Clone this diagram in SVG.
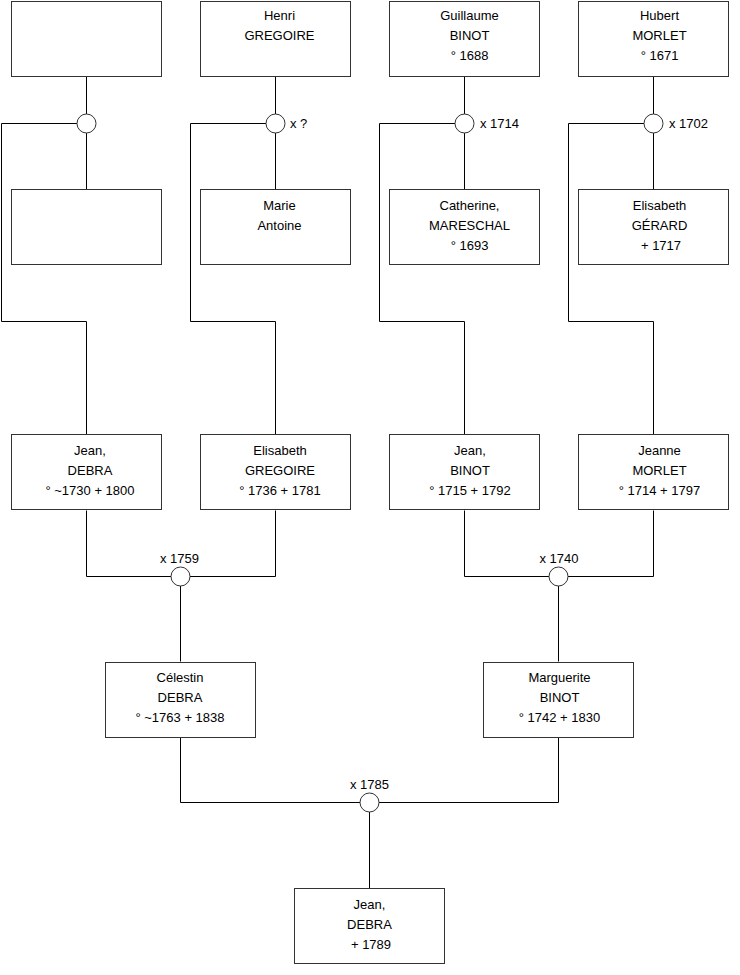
<svg xmlns="http://www.w3.org/2000/svg" width="740" height="975" viewBox="0 0 740 975">
<style>
.box{fill:#fff;stroke:#333;stroke-width:1}
.dot{fill:#fff;stroke:#333;stroke-width:1}
.ln{fill:none;stroke:#000;stroke-width:1}
text{font-family:"Liberation Sans",Arial,sans-serif;font-size:13px;fill:#000}
.c{text-anchor:middle}
</style>
<rect width="740" height="975" fill="#fff"/>
<g id="connectors">
<path class="ln" d="M86.5 76.5V189.5M77 123.5H1.5V321.5H86.5V434.5"/>
<path class="ln" d="M275.5 76.5V189.5M266 123.5H190.5V321.5H275.5V434.5"/>
<path class="ln" d="M464.5 76.5V189.5M455 123.5H379.5V321.5H464.5V434.5"/>
<path class="ln" d="M653.5 76.5V189.5M644 123.5H568.5V321.5H653.5V434.5"/>
<path class="ln" d="M86.5 510.5V576.5H275.5V510.5M180.5 576.5V661.5"/>
<path class="ln" d="M464.5 510.5V576.5H653.5V510.5M558.5 576.5V661.5"/>
<path class="ln" d="M180.5 737.5V802.5H558.5V737.5M369.5 802.5V888.5"/>
</g>
<g id="m1"><circle class="dot" cx="86.5" cy="123.5" r="9.5"/></g>
<g id="m2"><circle class="dot" cx="275.5" cy="123.5" r="9.5"/><text x="290" y="128">x ?</text></g>
<g id="m3"><circle class="dot" cx="464.5" cy="123.5" r="9.5"/><text x="480" y="128">x 1714</text></g>
<g id="m4"><circle class="dot" cx="653.5" cy="123.5" r="9.5"/><text x="669" y="128">x 1702</text></g>
<g id="m5"><circle class="dot" cx="180.5" cy="576.5" r="9.5"/><text class="c" x="179.5" y="563">x 1759</text></g>
<g id="m6"><circle class="dot" cx="558.5" cy="576.5" r="9.5"/><text class="c" x="559" y="563">x 1740</text></g>
<g id="m7"><circle class="dot" cx="369.5" cy="802.5" r="9.5"/><text class="c" x="369.5" y="789">x 1785</text></g>
<g id="p1"><rect class="box" x="11.5" y="1.5" width="150" height="75"/></g>
<g id="p2"><rect class="box" x="200.5" y="1.5" width="150" height="75"/><text class="c" x="279.5" y="20">Henri</text><text class="c" x="279.5" y="40">GREGOIRE</text></g>
<g id="p3"><rect class="box" x="389.5" y="1.5" width="150" height="75"/><text class="c" x="469.5" y="20">Guillaume</text><text class="c" x="469.5" y="40">BINOT</text><text class="c" x="469.5" y="60">° 1688</text></g>
<g id="p4"><rect class="box" x="578.5" y="1.5" width="150" height="75"/><text class="c" x="659.5" y="20">Hubert</text><text class="c" x="659.5" y="40">MORLET</text><text class="c" x="659.5" y="60">° 1671</text></g>
<g id="p5"><rect class="box" x="11.5" y="189.5" width="150" height="75"/></g>
<g id="p6"><rect class="box" x="200.5" y="189.5" width="150" height="75"/><text class="c" x="279.5" y="210">Marie</text><text class="c" x="279.5" y="230">Antoine</text></g>
<g id="p7"><rect class="box" x="389.5" y="189.5" width="150" height="75"/><text class="c" x="469.5" y="210">Catherine,</text><text class="c" x="469.5" y="230">MARESCHAL</text><text class="c" x="469.5" y="250">° 1693</text></g>
<g id="p8"><rect class="box" x="578.5" y="189.5" width="150" height="75"/><text class="c" x="659.5" y="210">Elisabeth</text><text class="c" x="659.5" y="230">GÉRARD</text><text class="c" x="661" y="250">+ 1717</text></g>
<g id="p9"><rect class="box" x="11.5" y="434.5" width="150" height="75"/><text class="c" x="90" y="455">Jean,</text><text class="c" x="90" y="475">DEBRA</text><text class="c" x="90" y="495">° ~1730 + 1800</text></g>
<g id="p10"><rect class="box" x="200.5" y="434.5" width="150" height="75"/><text class="c" x="280" y="455">Elisabeth</text><text class="c" x="280" y="475">GREGOIRE</text><text class="c" x="280" y="495">° 1736 + 1781</text></g>
<g id="p11"><rect class="box" x="389.5" y="434.5" width="150" height="75"/><text class="c" x="470" y="455">Jean,</text><text class="c" x="470" y="475">BINOT</text><text class="c" x="470" y="495">° 1715 + 1792</text></g>
<g id="p12"><rect class="box" x="578.5" y="434.5" width="150" height="75"/><text class="c" x="659.5" y="455">Jeanne</text><text class="c" x="659.5" y="475">MORLET</text><text class="c" x="659.5" y="495">° 1714 + 1797</text></g>
<g id="p13"><rect class="box" x="105.5" y="662.5" width="150" height="75"/><text class="c" x="180" y="682">Célestin</text><text class="c" x="180" y="702">DEBRA</text><text class="c" x="180" y="722">° ~1763 + 1838</text></g>
<g id="p14"><rect class="box" x="483.5" y="662.5" width="150" height="75"/><text class="c" x="559.5" y="682">Marguerite</text><text class="c" x="559.5" y="702">BINOT</text><text class="c" x="559.5" y="722">° 1742 + 1830</text></g>
<g id="p15"><rect class="box" x="294.5" y="888.5" width="150" height="75"/><text class="c" x="369.5" y="909">Jean,</text><text class="c" x="369.5" y="929">DEBRA</text><text class="c" x="371" y="949">+ 1789</text></g>
</svg>
